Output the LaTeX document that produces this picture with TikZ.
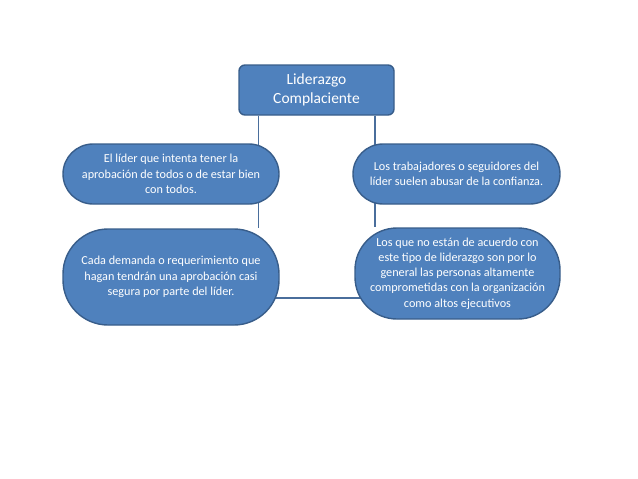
\documentclass[tikz,border=0pt]{standalone}
\usepackage{fontspec}
\setmainfont{Carlito}
\usetikzlibrary{backgrounds}
\definecolor{boxfill}{HTML}{4F81BD}
\definecolor{boxline}{HTML}{385D8A}
\definecolor{linkline}{HTML}{4A6E9C}
\tikzset{
	idea/.style={draw=boxline,fill=boxfill,line width=1.4pt,text=white,align=center,inner sep=0pt,font=\fontsize{12.2}{15.2}\selectfont},
	link/.style={draw=linkline,line width=1.6pt}
}

\begin{document}
\begin{tikzpicture}[x=1pt,y=-1pt]
	\useasboundingbox (0,0) rectangle (638,479);
	\node[idea,rounded corners=6pt,minimum width=155pt,minimum height=50pt,font=\fontsize{15.5}{18.3}\selectfont](top) at (316.5,90) {Liderazgo\\Complaciente};
	\node[idea,rounded corners=30pt,minimum width=216pt,minimum height=60pt](aprob) at (171,174) {El líder que intenta tener la\\aprobación de todos o de estar bien\\con todos.};
	\node[idea,rounded corners=30pt,minimum width=207pt,minimum height=60pt](abuso) at (456.5,174) {Los trabajadores o seguidores del\\líder suelen abusar de la confianza.};
	\node[idea,rounded corners=45pt,minimum width=216pt,minimum height=96pt](demanda) at (171,277) {Cada demanda o requerimiento que\\hagan tendrán una aprobación casi\\segura por parte del líder.};
	\node[idea,rounded corners=42pt,minimum width=205pt,minimum height=91pt](desacuerdo) at (457.5,273.5) {Los que no están de acuerdo con\\este tipo de liderazgo son por lo\\general las personas altamente\\comprometidas con la organización\\como altos ejecutivos};

	\begin{scope}[on background layer]
		\draw[link] ([xshift=20pt]top.south west) -- ([xshift=20pt]top.south west |- demanda.north);
		\draw[link] ([xshift=-20pt]top.south east) -- ([xshift=-20pt]top.south east |- desacuerdo.north);
		\draw[link] ([yshift=-21pt]demanda.center) -- ([yshift=-21pt]demanda.center -| desacuerdo.center);
	\end{scope}
\end{tikzpicture}
\end{document}
